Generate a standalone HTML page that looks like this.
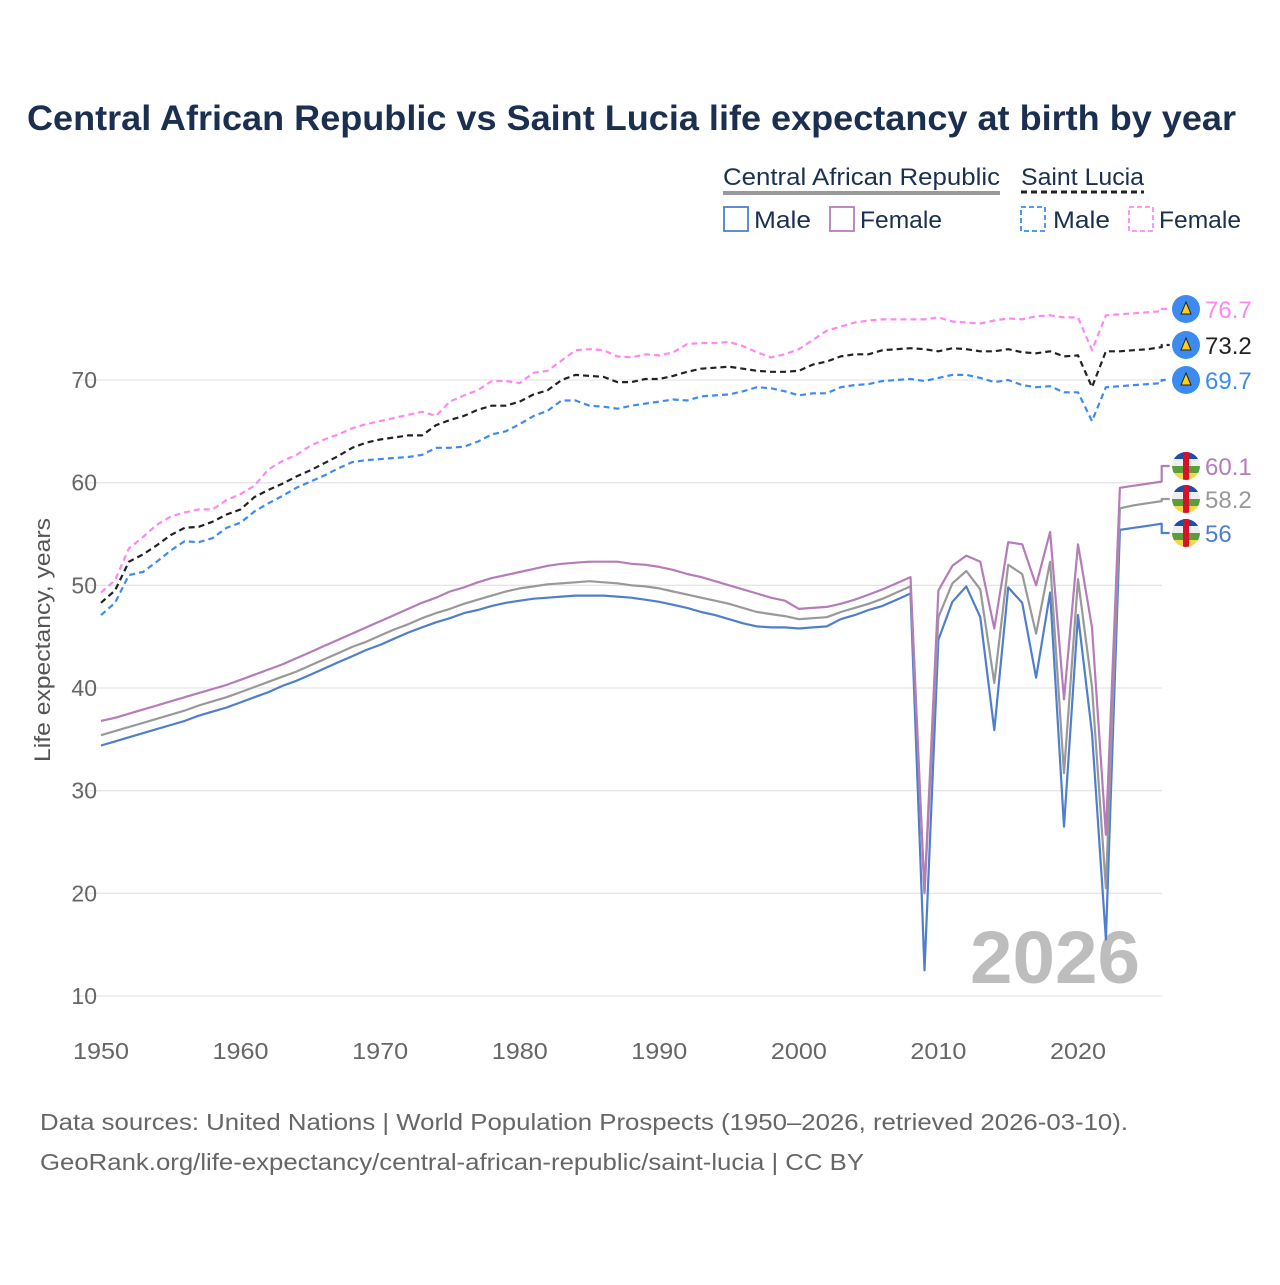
<!DOCTYPE html>
<html><head><meta charset="utf-8">
<style>
body{margin:0;background:#fff;font-family:"Liberation Sans",sans-serif;}
svg text{font-family:"Liberation Sans",sans-serif;}
</style></head>
<body>
<svg id="chart" width="1280" height="1280" viewBox="0 0 1280 1280" xmlns="http://www.w3.org/2000/svg">
<rect width="1280" height="1280" fill="#fff"/>
<text x="27" y="130" textLength="1209" lengthAdjust="spacingAndGlyphs" font-size="35" font-weight="bold" fill="#1b2f50">Central African Republic vs Saint Lucia life expectancy at birth by year</text>
<g>
<text x="723" y="185" textLength="277" lengthAdjust="spacingAndGlyphs" font-size="24" fill="#1b2f50">Central African Republic</text>
<line x1="723" y1="193" x2="1000" y2="193" stroke="#999" stroke-width="4"/>
<text x="1021" y="185" textLength="123" lengthAdjust="spacingAndGlyphs" font-size="24" fill="#1b2f50">Saint Lucia</text>
<line x1="1021" y1="192" x2="1144" y2="192" stroke="#222" stroke-width="3" stroke-dasharray="6,4"/>
<rect x="724" y="207" width="24" height="24" fill="none" stroke="#4f7fcc" stroke-width="1.8"/>
<text x="754" y="228" textLength="57" lengthAdjust="spacingAndGlyphs" font-size="24" fill="#1b2f50">Male</text>
<rect x="830" y="207" width="24" height="24" fill="none" stroke="#b57cba" stroke-width="1.8"/>
<text x="860" y="228" textLength="82" lengthAdjust="spacingAndGlyphs" font-size="24" fill="#1b2f50">Female</text>
<rect x="1021" y="207" width="24" height="24" fill="none" stroke="#3d8bf0" stroke-width="1.8" stroke-dasharray="5,3"/>
<text x="1053" y="228" textLength="57" lengthAdjust="spacingAndGlyphs" font-size="24" fill="#1b2f50">Male</text>
<rect x="1129" y="207" width="24" height="24" fill="none" stroke="#ff88f0" stroke-width="1.8" stroke-dasharray="5,3"/>
<text x="1159" y="228" textLength="82" lengthAdjust="spacingAndGlyphs" font-size="24" fill="#1b2f50">Female</text>
</g>
<text transform="translate(50,640) rotate(-90)" text-anchor="middle" textLength="244" lengthAdjust="spacingAndGlyphs" font-size="22" fill="#555">Life expectancy, years</text>
<text x="1140" y="983" text-anchor="end" textLength="170" lengthAdjust="spacingAndGlyphs" font-size="74" font-weight="bold" fill="#bdbdbd">2026</text>
<g id="grid"></g><g id="series"></g><g id="labels"></g>
<text x="40" y="1130" textLength="1088" lengthAdjust="spacingAndGlyphs" font-size="23" fill="#666">Data sources: United Nations | World Population Prospects (1950–2026, retrieved 2026-03-10).</text>
<text x="40" y="1170" textLength="824" lengthAdjust="spacingAndGlyphs" font-size="23" fill="#666">GeoRank.org/life-expectancy/central-african-republic/saint-lucia | CC BY</text>
</svg>
<script>
const startYear = 1950;
const xTicks = [1950,1960,1970,1980,1990,2000,2010,2020];
const yTicks = [10,20,30,40,50,60,70];
const carMale = [34.4,34.8,35.2,35.6,36.0,36.4,36.8,37.3,37.7,38.1,38.6,39.1,39.6,40.2,40.7,41.3,41.9,42.5,43.1,43.7,44.2,44.8,45.4,45.9,46.4,46.8,47.3,47.6,48.0,48.3,48.5,48.7,48.8,48.9,49.0,49.0,49.0,48.9,48.8,48.6,48.4,48.1,47.8,47.4,47.1,46.7,46.3,46.0,45.9,45.9,45.8,45.9,46.0,46.7,47.1,47.6,48.0,48.6,49.2,12.5,44.7,48.4,49.9,46.9,35.9,49.8,48.3,41.0,49.3,26.5,47.1,35.6,15.5,55.4,55.6,55.8,56.0];
const carBoth = [35.4,35.8,36.2,36.6,37.0,37.4,37.8,38.3,38.7,39.1,39.6,40.1,40.6,41.1,41.6,42.2,42.8,43.4,44.0,44.5,45.1,45.7,46.2,46.8,47.3,47.7,48.2,48.6,49.0,49.4,49.7,49.9,50.1,50.2,50.3,50.4,50.3,50.2,50.0,49.9,49.7,49.4,49.1,48.8,48.5,48.2,47.8,47.4,47.2,47.0,46.7,46.8,46.9,47.4,47.8,48.2,48.7,49.3,49.9,20.0,46.9,50.2,51.4,49.6,40.5,52.0,51.1,45.3,52.3,31.7,50.6,40.1,20.5,57.5,57.8,58.0,58.2];
const carFemale = [36.8,37.1,37.5,37.9,38.3,38.7,39.1,39.5,39.9,40.3,40.8,41.3,41.8,42.3,42.9,43.5,44.1,44.7,45.3,45.9,46.5,47.1,47.7,48.3,48.8,49.4,49.8,50.3,50.7,51.0,51.3,51.6,51.9,52.1,52.2,52.3,52.3,52.3,52.1,52.0,51.8,51.5,51.1,50.8,50.4,50.0,49.6,49.2,48.8,48.5,47.7,47.8,47.9,48.2,48.6,49.1,49.6,50.2,50.8,20.1,49.5,51.9,52.9,52.3,45.8,54.2,54.0,50.0,55.2,38.9,54.0,45.9,25.7,59.5,59.7,59.9,60.1];
const lucMale = [47.1,48.3,51.0,51.3,52.3,53.4,54.3,54.2,54.6,55.6,56.1,57.2,58.0,58.7,59.5,60.1,60.7,61.4,62.0,62.2,62.3,62.4,62.5,62.7,63.4,63.4,63.5,64.0,64.7,65.0,65.7,66.5,67.0,68.0,68.0,67.5,67.4,67.2,67.5,67.7,67.9,68.1,68.0,68.4,68.5,68.6,68.9,69.3,69.2,68.9,68.5,68.7,68.7,69.3,69.5,69.6,69.9,70.0,70.1,69.9,70.2,70.5,70.5,70.2,69.8,70.0,69.5,69.3,69.4,68.8,68.8,66.0,69.3,69.4,69.5,69.6,69.7];
const lucBoth = [48.3,49.5,52.3,53.0,53.9,54.9,55.6,55.7,56.2,56.9,57.4,58.6,59.3,59.9,60.6,61.2,61.9,62.6,63.4,63.9,64.2,64.4,64.6,64.6,65.6,66.1,66.5,67.1,67.5,67.5,67.9,68.6,69.0,70.0,70.5,70.4,70.3,69.8,69.8,70.1,70.1,70.4,70.8,71.1,71.2,71.3,71.1,70.9,70.8,70.8,70.9,71.5,71.8,72.3,72.5,72.5,72.9,73.0,73.1,73.0,72.8,73.1,73.0,72.8,72.8,73.0,72.7,72.6,72.8,72.3,72.4,69.3,72.8,72.8,72.9,73.0,73.2];
const lucFemale = [49.3,50.5,53.6,54.7,55.9,56.7,57.1,57.4,57.4,58.3,58.9,59.7,61.3,62.1,62.7,63.6,64.2,64.7,65.3,65.7,66.0,66.3,66.6,66.9,66.5,67.9,68.5,69.0,69.9,69.9,69.7,70.7,70.9,71.9,72.9,73.0,72.9,72.3,72.2,72.5,72.4,72.7,73.5,73.6,73.6,73.7,73.3,72.7,72.2,72.5,73.0,73.9,74.8,75.2,75.6,75.8,75.9,75.9,75.9,75.9,76.1,75.7,75.6,75.5,75.8,76.0,75.9,76.2,76.3,76.1,76.1,72.9,76.3,76.4,76.5,76.6,76.7];

const NS='http://www.w3.org/2000/svg';
function xS(year){return 101+(year-1950)*(1078-101)/70;}
function yS(v){return 996-(v-10)*(616/60);}
function mk(tag,attrs,parent){const e=document.createElementNS(NS,tag);for(const k in attrs)e.setAttribute(k,attrs[k]);parent.appendChild(e);return e;}
const grid=document.getElementById('grid');
yTicks.forEach(v=>{
  const l=mk('line',{x1:75,x2:1162,y1:yS(v),y2:yS(v),stroke:'#e6e6e6','stroke-width':1.3},grid);
  
  
  const t=mk('text',{x:97,y:yS(v)+8,'text-anchor':'end','font-size':23,fill:'#666'},grid);
  t.textContent=v;
  
  
});
xTicks.forEach(y=>{
  const t=mk('text',{x:xS(y),y:1059,'text-anchor':'middle','font-size':23,fill:'#666',textLength:56,lengthAdjust:'spacingAndGlyphs'},grid);
  t.textContent=y;
  
  
});
const series=document.getElementById('series');
const labels=document.getElementById('labels');
const defs=[
 {d:carMale,c:'#4f7fcc',dash:null,name:'car-male',ly:533,flag:'car'},
 {d:carBoth,c:'#999999',dash:null,name:'car-both',ly:499,flag:'car'},
 {d:carFemale,c:'#b57cba',dash:null,name:'car-female',ly:466,flag:'car'},
 {d:lucMale,c:'#3d8bf0',dash:'6,4',name:'lucia-male',ly:380,flag:'lc'},
 {d:lucBoth,c:'#222222',dash:'6,4',name:'lucia-both',ly:345,flag:'lc'},
 {d:lucFemale,c:'#ff88f0',dash:'6,4',name:'lucia-female',ly:309,flag:'lc'}
];
defs.forEach(s=>{
  const pts=s.d.map((v,i)=>xS(startYear+i).toFixed(1)+','+yS(v).toFixed(1));
  const last=s.d[s.d.length-1];
  const lx=xS(startYear+s.d.length-1);
  pts.push(lx.toFixed(1)+','+s.ly, (lx+8).toFixed(1)+','+s.ly);
  const a={points:pts.join(' '),fill:'none',stroke:s.c,'stroke-width':2.2,'stroke-linejoin':'round'};
  if(s.dash)a['stroke-dasharray']=s.dash;
  const p=mk('polyline',a,series);
  
  
  const cx=1186, cy=s.ly;
  const g=mk('g',{},labels);
  
  
  if(s.flag==='lc'){
    mk('circle',{cx:cx,cy:cy,r:14,fill:'#3d8bf0'},g);
    mk('polygon',{points:`${cx},${cy-7} ${cx+5},${cy+5} ${cx-5},${cy+5}`,fill:'#fcd116',stroke:'#222','stroke-width':1},g);
  } else {
    const id='clip'+s.name;
    const cp=mk('clipPath',{id:id},g);mk('circle',{cx:cx,cy:cy,r:14},cp);
    const gg=mk('g',{'clip-path':`url(#${id})`},g);
    mk('rect',{x:cx-14,y:cy-14,width:28,height:7,fill:'#1d4fa8'},gg);
    mk('rect',{x:cx-14,y:cy-7,width:28,height:7,fill:'#eee'},gg);
    mk('rect',{x:cx-14,y:cy,width:28,height:7,fill:'#5a9e3a'},gg);
    mk('rect',{x:cx-14,y:cy+7,width:28,height:7,fill:'#f7d64a'},gg);
    mk('rect',{x:cx-3,y:cy-14,width:6,height:28,fill:'#d4122a'},gg);
  }
  const t=mk('text',{x:1205,y:cy+9,'font-size':24,fill:s.c},labels);
  t.textContent=String(last);
  
  
});
</script>
</body></html>
